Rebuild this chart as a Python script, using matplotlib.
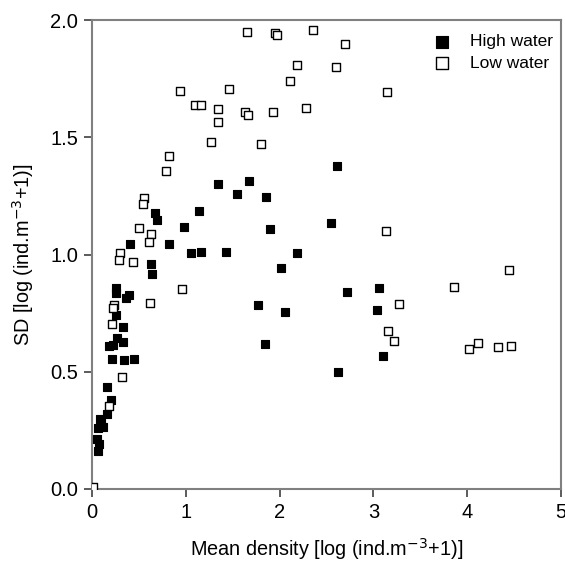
import matplotlib.pyplot as plt

plt.rcParams['font.family'] = ['Liberation Sans', 'DejaVu Sans']

# High water (filled squares)
high_x = [1.344, 1.677, 1.54, 1.85, 2.61, 0.674, 0.695, 1.138, 0.982, 1.90,
          2.546, 0.404, 0.819, 1.057, 1.163, 1.426, 2.18, 0.624, 0.635, 2.01,
          2.716, 3.064, 2.057, 3.04, 0.255, 0.252, 0.397, 0.362, 1.773, 0.255,
          0.33, 3.10, 2.62, 1.84, 0.27, 0.333, 0.184, 0.227, 0.21, 0.344,
          0.45, 0.156, 0.199, 0.163, 0.085, 0.092, 0.067, 0.114, 0.056, 0.078,
          0.067]
high_y = [1.302, 1.313, 1.258, 1.247, 1.38, 1.177, 1.147, 1.184, 1.119, 1.109,
          1.133, 1.044, 1.044, 1.006, 1.013, 1.013, 1.007, 0.959, 0.919, 0.943,
          0.840, 0.858, 0.757, 0.762, 0.858, 0.837, 0.828, 0.813, 0.786, 0.743,
          0.691, 0.567, 0.497, 0.617, 0.645, 0.627, 0.608, 0.613, 0.555, 0.552,
          0.553, 0.437, 0.379, 0.318, 0.30, 0.282, 0.258, 0.263, 0.211, 0.191,
          0.163]

# Low water (open squares)
low_x = [1.65, 1.95, 1.97, 0.936, 1.46, 1.10, 1.16, 1.34, 1.635, 1.66,
         1.93, 1.34, 1.266, 1.80, 0.816, 0.784, 0.553, 2.355, 2.70, 2.18,
         2.60, 2.11, 3.145, 2.28, 0.539, 0.497, 0.624, 0.606, 0.298, 0.29,
         0.433, 0.96, 0.617, 0.234, 0.227, 0.213, 3.135, 4.447, 3.858, 3.277,
         3.156, 3.223, 4.018, 4.11, 4.333, 4.47, 0.319, 0.184, 0.014]
low_y = [1.95, 1.946, 1.935, 1.70, 1.705, 1.637, 1.637, 1.62, 1.607, 1.596,
         1.61, 1.567, 1.482, 1.472, 1.42, 1.355, 1.241, 1.96, 1.90, 1.807,
         1.80, 1.74, 1.695, 1.627, 1.216, 1.112, 1.088, 1.052, 1.006, 0.979,
         0.970, 0.852, 0.793, 0.787, 0.772, 0.702, 1.102, 0.935, 0.862, 0.790,
         0.674, 0.630, 0.599, 0.623, 0.606, 0.608, 0.477, 0.352, 0.01]

fig = plt.figure(figsize=(5.65, 5.62), dpi=100)
ax = fig.add_axes([0.163, 0.13, 0.830, 0.834])

ax.scatter(high_x, high_y, marker='s', s=36, c='black', edgecolors='black',
           linewidths=0.8, label='High water', zorder=3)
ax.scatter(low_x, low_y, marker='s', s=36, facecolors='white', edgecolors='black',
           linewidths=1.0, label='Low water', zorder=3)

ax.set_xlim(0, 5)
ax.set_ylim(0, 2.0)
ax.set_xticks([0, 1, 2, 3, 4, 5])
ax.set_yticks([0.0, 0.5, 1.0, 1.5, 2.0])
ax.set_yticklabels(['0.0', '0.5', '1.0', '1.5', '2.0'])

for sp in ax.spines.values():
    sp.set_color('#808080')
    sp.set_linewidth(1.5)
ax.tick_params(direction='out', length=6, width=1.2, color='#404040',
               labelsize=14.5, pad=4)

ax.set_xlabel('Mean density [log (ind.m$^{-3}$+1)]', fontsize=14.3, labelpad=10)
ax.set_ylabel('SD [log (ind.m$^{-3}$+1)]', fontsize=14.3, labelpad=10)

ax.legend(loc='upper right', frameon=False, fontsize=12.5, handletextpad=0.6,
          borderaxespad=0.4, labelspacing=0.35, markerscale=1.5,
          bbox_to_anchor=(1.012, 1.0))

fig.savefig('out.png', dpi=100)
